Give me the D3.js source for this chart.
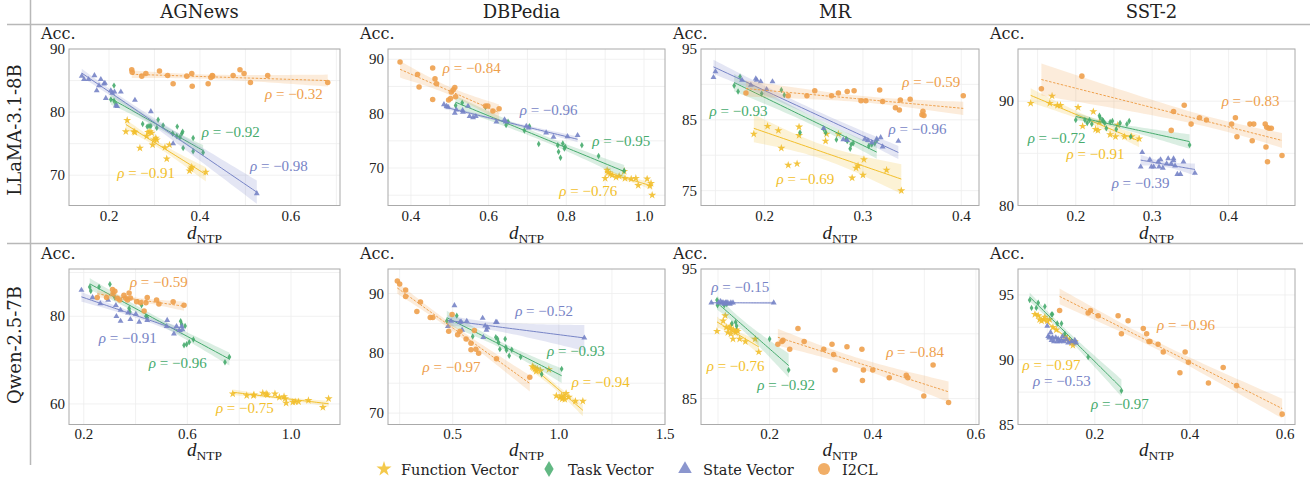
<!DOCTYPE html>
<html lang="en">
<head>
<meta charset="UTF-8">
<title>d_NTP vs. accuracy</title>
<script src="https://d3js.org/d3.v7.min.js"></script>
<style>
  body { margin: 0; background: white; }
  svg { display: block; }
  .tick { font-family: "Liberation Serif", serif; font-size: 15px; fill: #222; }
  .acc { font-family: "DejaVu Serif", serif; font-size: 16px; fill: #222; }
  .head { font-family: "DejaVu Serif", serif; font-size: 18px; fill: #222; }
  .rho { font-family: "Liberation Serif", serif; font-size: 15px; }
  .xlab { font-family: "Liberation Serif", serif; fill: #222; }
  .legend { font-family: "DejaVu Serif", serif; font-size: 14.5px; fill: #222; }
</style>
</head>
<body>
<div id="chart"></div>
<script>
// ---------------- data ----------------
const datasets = ["AGNews", "DBPedia", "MR", "SST-2"];
const models = ["LLaMA-3.1-8B", "Qwen-2.5-7B"];
const methods = ["Function Vector", "Task Vector", "State Vector", "I2CL"];

// axis limits and ticks per panel (row-major: LLaMA x 4 datasets, then Qwen x 4)
const xDomains = [[0.112, 0.708], [0.341, 1.054], [0.1353, 0.418], [0.1244, 0.487],
                  [0.143, 1.189], [0.195, 1.5], [0.067, 0.606], [0.0385, 0.621]];
const yDomains = [[65.2, 90], [63.1, 91.9], [72.9, 95], [80, 95],
                  [55.3, 90.8], [68.1, 94.1], [83.0, 95], [85, 97]];
const xTicks = [[0.2, 0.4, 0.6], [0.4, 0.6, 0.8, 1.0], [0.2, 0.3, 0.4], [0.2, 0.3, 0.4],
                [0.2, 0.6, 1.0], [0.5, 1.0, 1.5], [0.2, 0.4, 0.6], [0.2, 0.4, 0.6]];
const yTicks = [[70, 80, 90], [70, 80, 90], [75, 85, 95], [80, 90],
                [60, 80], [70, 80, 90], [85, 95], [85, 90, 95]];

// Pearson rho per panel, order FV, TV, SV, I2CL
const rhoValues = [[-0.91, -0.92, -0.98, -0.32], [-0.76, -0.95, -0.96, -0.84],
                   [-0.69, -0.93, -0.96, -0.59], [-0.91, -0.72, -0.39, -0.83],
                   [-0.75, -0.96, -0.91, -0.59], [-0.94, -0.93, -0.52, -0.97],
                   [-0.76, -0.92, -0.15, -0.84], [-0.97, -0.97, -0.53, -0.96]];
// where each rho annotation starts (data units of its panel)
const rhoAt = [[[0.218, 69.6], [0.404, 76.1], [0.510, 70.7], [0.543, 82.1]],
               [[0.782, 64.8], [0.867, 74.0], [0.680, 79.7], [0.482, 87.4]],
               [[0.212, 75.9], [0.144, 85.6], [0.326, 83.0], [0.340, 89.6]],
               [[0.188, 84.5], [0.137, 86.0], [0.247, 81.7], [0.391, 89.5]],
               [[0.710, 58.0], [0.451, 68.1], [0.258, 73.8], [0.378, 86.6]],
               [[1.061, 74.3], [0.944, 79.6], [0.794, 86.2], [0.358, 76.8]],
               [[0.078, 87.1], [0.176, 85.7], [0.087, 93.2], [0.426, 88.2]],
               [[0.048, 89.2], [0.192, 86.2], [0.070, 88.0], [0.331, 92.3]]];

// [d_NTP, accuracy] points
const llamaAGNewsFV = [[0.240,78.7],[0.237,76.9],[0.255,76.9],[0.257,76.8],[0.268,74.3],[0.283,76.2],[0.286,76.8],[0.290,76.9],[0.294,76.7],[0.296,74.8],[0.299,75.6],[0.303,75.9],[0.305,75.6],[0.323,74.4],[0.327,72.6],[0.333,74.8],[0.377,70.7],[0.380,71.0],[0.382,71.3],[0.413,70.5]];
const llamaAGNewsTV = [[0.211,84.2],[0.204,82.0],[0.211,81.8],[0.215,81.3],[0.274,78.1],[0.284,77.7],[0.288,77.8],[0.292,77.8],[0.305,77.5],[0.308,78.8],[0.319,77.9],[0.340,76.6],[0.349,76.2],[0.350,77.7],[0.356,76.0],[0.360,76.6],[0.362,76.9],[0.363,74.3],[0.385,75.9],[0.385,73.8],[0.407,73.6]];
const llamaAGNewsSV = [[0.140,85.7],[0.145,85.2],[0.155,85.2],[0.168,85.8],[0.173,83.4],[0.178,84.2],[0.182,85.2],[0.189,84.5],[0.191,84.6],[0.193,82.2],[0.204,83.4],[0.207,83.0],[0.212,83.2],[0.215,81.0],[0.218,80.9],[0.226,83.2],[0.257,81.9],[0.292,80.1],[0.341,75.0],[0.525,67.1]];
const llamaAGNewsI2CL = [[0.250,86.7],[0.251,86.3],[0.272,85.7],[0.281,86.1],[0.311,86.5],[0.329,85.8],[0.341,84.5],[0.371,85.7],[0.382,86.1],[0.383,84.1],[0.418,84.5],[0.424,85.5],[0.427,85.8],[0.428,85.7],[0.473,85.8],[0.488,86.7],[0.497,86.1],[0.511,84.7],[0.549,85.8],[0.681,84.7]];

const llamaDBPediaFV = [[0.900,68.1],[0.905,69.6],[0.908,69.2],[0.913,68.9],[0.918,68.7],[0.928,68.3],[0.936,68.5],[0.949,69.4],[0.951,68.1],[0.967,68.0],[0.979,68.1],[0.985,66.8],[1.008,68.0],[1.015,66.7],[1.018,67.2],[1.021,65.0]];
const llamaDBPediaTV = [[0.515,81.5],[0.532,82.0],[0.592,81.2],[0.645,77.9],[0.650,78.5],[0.692,76.9],[0.705,77.7],[0.729,74.4],[0.778,74.2],[0.780,73.0],[0.785,71.9],[0.791,74.5],[0.795,73.6],[0.797,73.9],[0.840,74.2],[0.883,72.2],[0.949,69.5]];
const llamaDBPediaSV = [[0.485,81.7],[0.492,81.4],[0.496,81.2],[0.513,80.1],[0.517,80.7],[0.533,80.6],[0.534,80.3],[0.547,81.4],[0.551,79.5],[0.560,79.3],[0.567,79.5],[0.620,78.5],[0.641,78.9],[0.644,78.5],[0.697,77.7],[0.703,77.4],[0.748,76.5],[0.767,75.7],[0.803,75.8],[0.829,76.0]];
const llamaDBPediaI2CL = [[0.372,89.5],[0.417,87.2],[0.421,84.9],[0.456,88.4],[0.456,82.6],[0.462,86.4],[0.466,85.5],[0.497,82.5],[0.502,82.8],[0.504,84.0],[0.509,84.4],[0.513,84.8],[0.515,83.1],[0.592,81.4],[0.598,81.4],[0.611,80.5],[0.627,80.9]];

const llamaMRFV = [[0.189,83.0],[0.203,84.1],[0.214,83.5],[0.217,81.0],[0.224,78.6],[0.233,78.8],[0.235,84.0],[0.235,82.8],[0.262,82.0],[0.263,83.0],[0.275,83.0],[0.289,76.8],[0.293,78.2],[0.295,78.5],[0.300,77.2],[0.301,79.4],[0.324,77.9],[0.339,75.0]];
const llamaMRTV = [[0.169,89.8],[0.173,89.0],[0.175,91.1],[0.197,88.7],[0.217,89.2],[0.220,88.5],[0.236,83.2],[0.260,83.7],[0.262,83.2],[0.273,82.2],[0.283,82.3],[0.284,82.0],[0.287,80.9],[0.288,81.5],[0.290,81.7],[0.306,81.3],[0.309,81.5],[0.312,81.7],[0.314,82.1]];
const llamaMRSV = [[0.148,91.0],[0.150,91.8],[0.177,90.6],[0.186,89.9],[0.191,90.8],[0.192,90.6],[0.196,90.4],[0.202,89.3],[0.208,90.4],[0.260,83.8],[0.280,82.2],[0.284,82.1],[0.302,82.3],[0.305,82.1],[0.309,81.8],[0.314,82.3],[0.318,82.5],[0.320,81.2],[0.336,82.0]];
const llamaMRI2CL = [[0.181,88.8],[0.224,88.4],[0.243,88.4],[0.251,89.1],[0.268,88.4],[0.275,88.8],[0.284,89.0],[0.291,89.1],[0.298,87.7],[0.303,87.7],[0.317,89.2],[0.320,87.6],[0.333,86.7],[0.337,86.4],[0.338,87.8],[0.348,87.9],[0.360,85.7],[0.361,86.2],[0.362,85.6],[0.402,88.4]];

const llamaSST2FV = [[0.141,89.8],[0.169,90.5],[0.166,89.8],[0.176,89.6],[0.180,89.6],[0.203,89.4],[0.209,87.6],[0.223,89.0],[0.226,87.3],[0.229,87.2],[0.231,88.0],[0.245,86.8],[0.252,86.6],[0.255,87.7],[0.264,86.6],[0.273,86.6],[0.283,86.4]];
const llamaSST2TV = [[0.200,88.2],[0.212,88.2],[0.215,87.9],[0.218,88.2],[0.221,87.8],[0.231,88.6],[0.232,88.4],[0.235,88.2],[0.236,88.1],[0.238,87.9],[0.240,87.4],[0.245,88.0],[0.248,88.1],[0.253,87.3],[0.258,87.9],[0.267,87.8],[0.270,88.1],[0.272,86.6],[0.349,85.8]];
const llamaSST2SV = [[0.285,83.7],[0.287,85.1],[0.297,84.4],[0.299,83.7],[0.302,83.7],[0.308,84.2],[0.309,83.7],[0.311,84.4],[0.314,83.6],[0.319,84.0],[0.321,84.5],[0.325,84.0],[0.328,84.3],[0.328,84.5],[0.330,83.8],[0.341,84.2],[0.333,83.0],[0.337,83.0],[0.356,83.1]];
const llamaSST2I2CL = [[0.155,91.2],[0.208,92.4],[0.325,87.2],[0.328,89.0],[0.342,89.6],[0.351,87.8],[0.362,88.4],[0.371,88.2],[0.404,87.8],[0.409,88.4],[0.411,86.6],[0.428,87.8],[0.431,86.2],[0.433,87.8],[0.448,87.8],[0.449,85.6],[0.450,87.5],[0.451,84.2],[0.453,87.4],[0.456,87.4],[0.470,84.8]];

const qwenAGNewsFV = [[0.775,62.3],[0.829,61.9],[0.855,61.9],[0.857,62.1],[0.891,62.5],[0.904,62.3],[0.909,62.1],[0.938,62.3],[0.955,61.5],[0.973,61.7],[0.977,61.2],[0.981,60.2],[1.007,60.4],[1.016,60.5],[1.029,60.5],[1.067,60.8],[1.123,59.2],[1.145,61.2]];
const qwenAGNewsTV = [[0.223,86.7],[0.227,85.8],[0.259,86.7],[0.301,87.3],[0.313,85.2],[0.320,84.3],[0.375,81.8],[0.378,81.0],[0.423,82.5],[0.440,80.0],[0.445,79.7],[0.574,78.9],[0.578,78.2],[0.591,77.8],[0.587,73.4],[0.597,73.6],[0.607,74.1],[0.623,74.7],[0.745,69.5],[0.762,70.7]];
const qwenAGNewsSV = [[0.191,86.0],[0.234,84.3],[0.264,82.9],[0.294,83.7],[0.324,82.5],[0.326,80.0],[0.342,78.9],[0.342,81.4],[0.371,80.8],[0.380,79.3],[0.401,80.5],[0.414,78.7],[0.445,79.1],[0.522,79.1],[0.520,77.7],[0.548,76.0],[0.558,77.7],[0.569,76.8],[0.578,77.7],[0.581,77.0]];
const qwenAGNewsI2CL = [[0.252,84.3],[0.288,84.3],[0.311,86.1],[0.313,85.2],[0.320,85.7],[0.329,84.1],[0.339,83.7],[0.355,84.8],[0.362,84.1],[0.369,83.7],[0.375,85.3],[0.380,84.2],[0.404,83.3],[0.419,83.1],[0.433,81.2],[0.440,83.1],[0.445,84.3],[0.481,83.7],[0.490,82.8],[0.545,83.3],[0.587,82.5]];

const qwenDBPediaFV = [[0.875,77.8],[0.880,77.6],[0.888,77.4],[0.893,77.0],[0.898,77.4],[0.914,77.1],[0.953,77.3],[0.988,72.9],[1.005,72.6],[1.013,72.9],[1.016,72.4],[1.023,72.6],[1.028,72.3],[1.034,73.3],[1.047,72.7],[1.078,72.0],[1.113,72.0]];
const qwenDBPediaTV = [[0.472,85.4],[0.519,86.3],[0.594,82.8],[0.703,82.7],[0.711,82.4],[0.716,81.8],[0.722,80.7],[0.747,82.4],[0.750,81.0],[0.753,80.5],[0.766,79.6],[0.778,80.6],[0.820,79.4],[0.919,76.5],[1.013,77.4]];
const qwenDBPediaSV = [[0.477,84.5],[0.492,85.4],[0.508,88.0],[0.534,85.2],[0.539,85.3],[0.544,83.9],[0.566,85.4],[0.641,85.9],[0.644,82.7],[0.653,84.6],[0.659,83.9],[0.664,84.3],[0.703,85.2],[0.708,85.2],[1.120,82.6]];
const qwenDBPediaI2CL = [[0.239,92.1],[0.250,91.6],[0.278,90.6],[0.278,89.5],[0.331,87.0],[0.348,88.6],[0.394,86.0],[0.406,86.0],[0.481,83.7],[0.497,86.5],[0.523,83.1],[0.534,83.7],[0.563,82.4],[0.586,81.7],[0.586,80.6],[0.602,83.8],[0.609,80.7],[0.622,80.0],[0.706,79.1],[0.863,76.0]];

const qwenMRFV = [[0.098,90.2],[0.110,91.0],[0.114,91.4],[0.116,90.5],[0.119,90.1],[0.123,90.4],[0.124,90.6],[0.125,90.0],[0.129,89.6],[0.130,90.3],[0.134,90.1],[0.136,90.3],[0.138,90.2],[0.142,89.6],[0.153,89.4],[0.172,89.6],[0.179,88.6]];
const qwenMRTV = [[0.098,92.6],[0.099,92.2],[0.112,92.2],[0.117,92.3],[0.127,90.8],[0.134,90.9],[0.136,90.6],[0.200,89.6],[0.237,87.2]];
const qwenMRSV = [[0.087,92.4],[0.101,92.4],[0.105,92.5],[0.108,92.4],[0.110,92.4],[0.112,92.3],[0.114,92.4],[0.116,92.4],[0.119,92.4],[0.123,92.3],[0.125,92.4],[0.129,92.4],[0.208,92.4]];
const qwenMRI2CL = [[0.216,89.2],[0.224,89.4],[0.226,89.5],[0.239,88.8],[0.255,90.4],[0.267,89.4],[0.305,88.8],[0.321,89.2],[0.324,88.4],[0.327,87.2],[0.350,89.0],[0.379,88.8],[0.380,86.4],[0.382,87.2],[0.400,87.2],[0.432,86.6],[0.465,86.8],[0.468,86.6],[0.499,85.2],[0.517,87.6],[0.547,84.7]];

const qwenSST2FV = [[0.074,93.5],[0.081,93.4],[0.084,93.1],[0.088,93.0],[0.093,93.1],[0.095,93.3],[0.100,93.0],[0.105,93.1],[0.112,92.5],[0.119,92.3],[0.137,91.8],[0.142,91.6],[0.147,91.5],[0.151,91.3],[0.154,91.1],[0.158,91.4]];
const qwenSST2TV = [[0.063,94.6],[0.067,94.0],[0.077,94.0],[0.081,94.4],[0.095,94.1],[0.109,93.5],[0.111,93.5],[0.121,92.8],[0.130,92.8],[0.137,92.0],[0.186,90.2],[0.256,87.6]];
const qwenSST2SV = [[0.100,92.6],[0.102,91.8],[0.104,91.7],[0.107,92.1],[0.109,91.5],[0.111,91.7],[0.114,91.4],[0.118,91.7],[0.121,91.4],[0.123,91.6],[0.126,91.4],[0.130,91.5],[0.132,91.8],[0.135,91.4],[0.140,91.6],[0.144,91.3],[0.151,91.4],[0.158,91.5],[0.161,91.3]];
const qwenSST2I2CL = [[0.126,93.8],[0.186,93.6],[0.191,93.8],[0.207,93.4],[0.249,93.4],[0.256,92.0],[0.270,93.0],[0.302,92.4],[0.309,92.0],[0.314,91.4],[0.316,91.4],[0.333,91.2],[0.344,90.6],[0.379,89.0],[0.390,90.6],[0.397,89.8],[0.439,88.2],[0.470,89.4],[0.498,88.0],[0.594,85.8]];

const panelPoints = [
  [llamaAGNewsFV, llamaAGNewsTV, llamaAGNewsSV, llamaAGNewsI2CL],
  [llamaDBPediaFV, llamaDBPediaTV, llamaDBPediaSV, llamaDBPediaI2CL],
  [llamaMRFV, llamaMRTV, llamaMRSV, llamaMRI2CL],
  [llamaSST2FV, llamaSST2TV, llamaSST2SV, llamaSST2I2CL],
  [qwenAGNewsFV, qwenAGNewsTV, qwenAGNewsSV, qwenAGNewsI2CL],
  [qwenDBPediaFV, qwenDBPediaTV, qwenDBPediaSV, qwenDBPediaI2CL],
  [qwenMRFV, qwenMRTV, qwenMRSV, qwenMRI2CL],
  [qwenSST2FV, qwenSST2TV, qwenSST2SV, qwenSST2I2CL]
];

// ---------------- style / layout ----------------
const colors = ["#F2BF2C", "#46AB6D", "#7784C6", "#EEA04C"];
const shapes = [d3.symbolStar, d3.symbolDiamond, d3.symbolTriangle, d3.symbolCircle];
const markSize = [20, 12, 15, 24];
const legendSize = [70, 75, 80, 115];
const dashes = [null, null, null, "2.5,1.5"];

const W = 1310, H = 484;
const colLeft = [69, 388, 701, 1018], colRight = [340, 665, 979, 1295];
const rowTop = [49, 269], rowBottom = [205.5, 424.5];
const tickGap = [15, 14], xlabGap = [33, 31];

const svg = d3.select("#chart").append("svg").attr("width", W).attr("height", H);

// separators
svg.append("line").attr("x1", 7).attr("x2", W).attr("y1", 24.5).attr("y2", 24.5)
  .attr("stroke", "#b8b8b8").attr("stroke-width", 1.5);
svg.append("line").attr("x1", 7).attr("x2", 1303).attr("y1", 243.5).attr("y2", 243.5)
  .attr("stroke", "#b8b8b8").attr("stroke-width", 1.5);
svg.append("line").attr("x1", 30.5).attr("x2", 30.5).attr("y1", 0).attr("y2", 465)
  .attr("stroke", "#b8b8b8").attr("stroke-width", 1.5);

// column headers
datasets.forEach((name, c) => {
  svg.append("text").attr("class", "head")
    .attr("x", (colLeft[c] + colRight[c]) / 2 - 5).attr("y", 18)
    .attr("text-anchor", "middle").text(name);
});
// row labels
models.forEach((name, r) => {
  const cy = r === 0 ? 130 : 345;
  svg.append("text").attr("class", "head")
    .attr("transform", `translate(21,${cy}) rotate(-90)`)
    .attr("text-anchor", "middle").text(name);
});

function regress(pts) {
  const n = pts.length;
  const mx = d3.mean(pts, d => d[0]), my = d3.mean(pts, d => d[1]);
  let sxx = 0, sxy = 0;
  pts.forEach(([x, y]) => { sxx += (x - mx) ** 2; sxy += (x - mx) * (y - my); });
  const b = sxy / sxx, a = my - b * mx;
  const s = Math.sqrt(d3.sum(pts, ([x, y]) => (y - a - b * x) ** 2) / (n - 2));
  const t = 1.96 + 2.4 / (n - 2);
  const [x0, x1] = d3.extent(pts, d => d[0]);
  return d3.range(41).map(i => {
    const x = x0 + (x1 - x0) * i / 40;
    const yh = a + b * x;
    const h = t * s * Math.sqrt(1 / n + (x - mx) ** 2 / sxx);
    return { x, y: yh, lo: yh - h, hi: yh + h };
  });
}

for (let p = 0; p < 8; p++) {
  const r = Math.floor(p / 4), c = p % 4;
  const left = colLeft[c], right = colRight[c], top = rowTop[r], bottom = rowBottom[r];
  const x = d3.scaleLinear().domain(xDomains[p]).range([left, right]);
  const y = d3.scaleLinear().domain(yDomains[p]).range([bottom, top]);
  const g = svg.append("g");

  // light grid: major ticks plus half steps
  const xs = (xTicks[p][1] - xTicks[p][0]) / 2, ys = (yTicks[p][1] - yTicks[p][0]) / 2;
  const xg = d3.range(Math.ceil(xDomains[p][0] / xs - 1e-6), Math.floor(xDomains[p][1] / xs + 1e-6) + 1).map(k => k * xs);
  const yg = d3.range(Math.ceil(yDomains[p][0] / ys - 1e-6), Math.floor(yDomains[p][1] / ys + 1e-6) + 1).map(k => k * ys);
  g.selectAll(".gx").data(xg).join("line")
    .attr("x1", d => x(d)).attr("x2", d => x(d)).attr("y1", top).attr("y2", bottom)
    .attr("stroke", "#ededed").attr("stroke-width", 0.8);
  g.selectAll(".gy").data(yg).join("line")
    .attr("y1", d => y(d)).attr("y2", d => y(d)).attr("x1", left).attr("x2", right)
    .attr("stroke", "#ededed").attr("stroke-width", 0.8);

  const clipId = "clip" + p;
  g.append("clipPath").attr("id", clipId).append("rect")
    .attr("x", left).attr("y", top).attr("width", right - left).attr("height", bottom - top);
  const plot = g.append("g").attr("clip-path", `url(#${clipId})`);

  panelPoints[p].forEach((pts, m) => {
    const fit = regress(pts);
    plot.append("path").datum(fit)
      .attr("d", d3.area().x(d => x(d.x)).y0(d => y(d.lo)).y1(d => y(d.hi)))
      .attr("fill", colors[m]).attr("fill-opacity", 0.2);
    plot.append("g").selectAll("path").data(pts).join("path")
      .attr("transform", d => `translate(${x(d[0])},${y(d[1])})`)
      .attr("d", d3.symbol().type(shapes[m]).size(markSize[m]))
      .attr("fill", colors[m]).attr("fill-opacity", 0.9);
    plot.append("path").datum(fit)
      .attr("d", d3.line().x(d => x(d.x)).y(d => y(d.y)))
      .attr("fill", "none").attr("stroke", colors[m]).attr("stroke-width", 1)
      .attr("stroke-dasharray", dashes[m]);
  });

  // frame
  g.append("rect").attr("x", left).attr("y", top).attr("width", right - left).attr("height", bottom - top)
    .attr("fill", "none").attr("stroke", "#aaaaaa").attr("stroke-width", 1);

  // tick labels
  g.selectAll(".xt").data(xTicks[p]).join("text").attr("class", "tick")
    .attr("x", d => x(d)).attr("y", bottom + tickGap[r]).attr("text-anchor", "middle")
    .text(d => d3.format(".1f")(d));
  g.selectAll(".yt").data(yTicks[p]).join("text").attr("class", "tick")
    .attr("x", left - 4).attr("y", d => y(d) + 5).attr("text-anchor", "end")
    .text(d => d);

  // axis titles
  g.append("text").attr("class", "acc").attr("x", left - 28).attr("y", top - 10).text("Acc.");
  const xl = g.append("text").attr("class", "xlab")
    .attr("x", (left + right) / 2).attr("y", bottom + xlabGap[r]).attr("text-anchor", "middle");
  xl.append("tspan").attr("font-style", "italic").attr("font-size", "19px").text("d");
  xl.append("tspan").attr("font-size", "13.5px").attr("dy", 4).text("NTP");

  // rho annotations
  rhoValues[p].forEach((v, m) => {
    const t = g.append("text").attr("class", "rho").attr("fill", colors[m])
      .attr("x", x(rhoAt[p][m][0])).attr("y", y(rhoAt[p][m][1]));
    t.append("tspan").attr("font-style", "italic").text("\u03C1");
    t.append("tspan").text(" = \u2212" + Math.abs(v).toFixed(2));
  });
}

// legend
const legendX = [384, 549, 685, 824], legendTextX = [401, 568, 703, 842];
methods.forEach((name, m) => {
  svg.append("path").attr("transform", `translate(${legendX[m]},${469})`)
    .attr("d", d3.symbol().type(shapes[m]).size(legendSize[m]))
    .attr("fill", colors[m]).attr("fill-opacity", 0.85);
  svg.append("text").attr("class", "legend").attr("x", legendTextX[m]).attr("y", 474.5).text(name);
});
</script>
</body>
</html>
